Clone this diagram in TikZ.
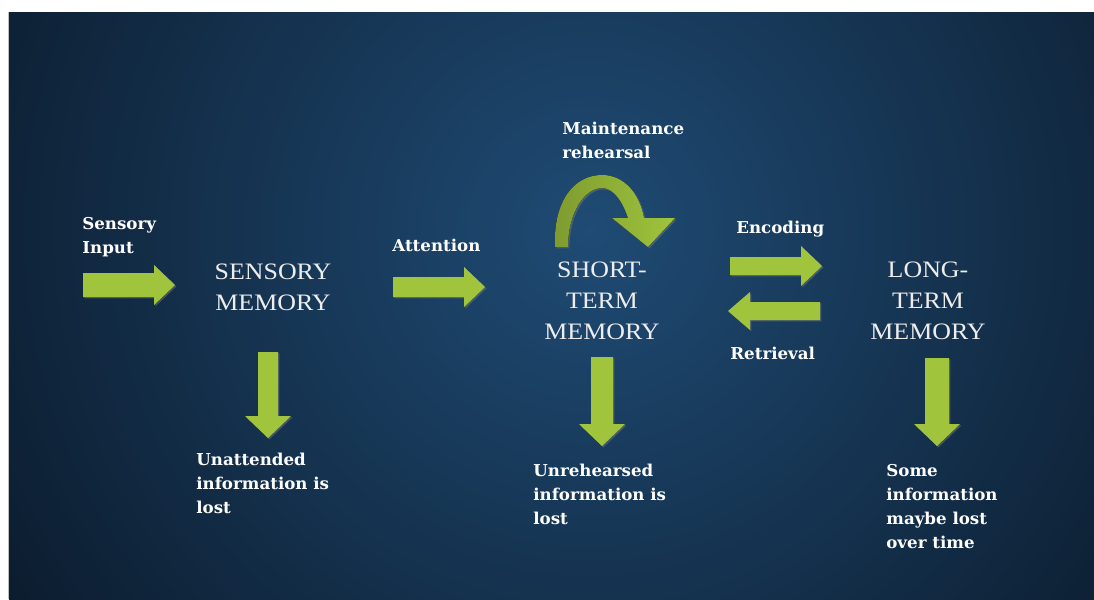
\documentclass[tikz,border=0pt]{standalone}
\usepackage{fontspec}
\usetikzlibrary{shadows}
\newfontfamily\labelfont[FakeStretch=1.02]{DejaVu Serif}
\newfontfamily\titlefont[FakeStretch=1.1]{Liberation Serif}
\definecolor{bgdark}{HTML}{0A1828}
\definecolor{bglight}{HTML}{1F4B74}
\definecolor{flecha}{HTML}{A0C43C}
\definecolor{flechaosc}{HTML}{7E9B30}
\tikzset{
    etiqueta/.style={text=white, inner sep=0pt, align=left, anchor=north west,
        font=\labelfont\bfseries\fontsize{9.3}{13.6}\selectfont},
    titulo/.style={text=white!93!black, inner sep=0pt, align=center, anchor=north,
        font=\titlefont\fontsize{13.4}{17.6}\selectfont},
    sombra/.style={drop shadow={opacity=0.45, shadow xshift=0.8pt, shadow yshift=-0.8pt}},
    bloque/.style={fill=flecha, sombra}
}
\begin{document}
\begin{tikzpicture}[x=0.02cm, y=-0.02cm]
    % fondo
    \useasboundingbox (0,0) rectangle (1094,599);
    \fill[bgdark] (9,12) rectangle (1094,599);
    \begin{scope}
        \clip (9,12) rectangle (1094,599);
        \shade[inner color=bglight, outer color=bgdark] (590,230) circle (15cm);
    \end{scope}
    \draw[black!25] (8.5,12) -- (8.5,599);

    % flechas hacia la derecha
    \foreach \xa/\xb/\cy/\h in {83/175/285/12, 393/485/287/10, 730/822/266/9}
        \fill[bloque] (\xa,\cy-\h) -- (\xb-21,\cy-\h) -- (\xb-21,\cy-20) -- (\xb,\cy)
            -- (\xb-21,\cy+20) -- (\xb-21,\cy+\h) -- (\xa,\cy+\h) -- cycle;

    % flecha de recuperacion
    \fill[bloque] (820,302) -- (750,302) -- (750,292) -- (728,311)
        -- (750,330) -- (750,320) -- (820,320) -- cycle;

    % flechas hacia abajo
    \foreach \cx/\ya/\yb/\h in {268/352/438/10, 602/357/446/11, 937/358/446/12}
        \fill[bloque] (\cx-\h,\ya) -- (\cx+\h,\ya) -- (\cx+\h,\yb-22) -- (\cx+23,\yb-22)
            -- (\cx,\yb) -- (\cx-23,\yb-22) -- (\cx-\h,\yb-22) -- cycle;

    % flecha curva (repaso)
    \fill[left color=flechaosc, right color=flecha, sombra]
        (555,247) .. controls (553,200) and (575,175) .. (602,175)
        .. controls (625,175) and (640,195) .. (644,218)
        -- (675,218) -- (648,247) -- (612,218) -- (628,218)
        .. controls (622,200) and (613,188) .. (602,188)
        .. controls (585,188) and (568,212) .. (568,247) -- cycle;

    % textos
    \node[etiqueta] (sensin) at (82,217) {Sensory\\Input};
    \node[titulo] (sensmem) at (273,264) {SENSORY\\MEMORY};
    \node[etiqueta] (atten) at (392,239) {Attention};
    \node[etiqueta] (mainreh) at (562,122) {Maintenance\\rehearsal};
    \node[titulo] (stmem) at (602,262) {SHORT-\\TERM\\MEMORY};
    \node[etiqueta] (encod) at (736,221) {Encoding};
    \node[etiqueta] (retr) at (730,347) {Retrieval};
    \node[titulo] (ltmem) at (928,262) {LONG-\\TERM\\MEMORY};
    \node[etiqueta] (lost1) at (196,453) {Unattended\\information is\\lost};
    \node[etiqueta] (lost2) at (533,464) {Unrehearsed\\information is\\lost};
    \node[etiqueta] (lost3) at (886,464) {Some\\information\\maybe lost\\over time};
\end{tikzpicture}
\end{document}
